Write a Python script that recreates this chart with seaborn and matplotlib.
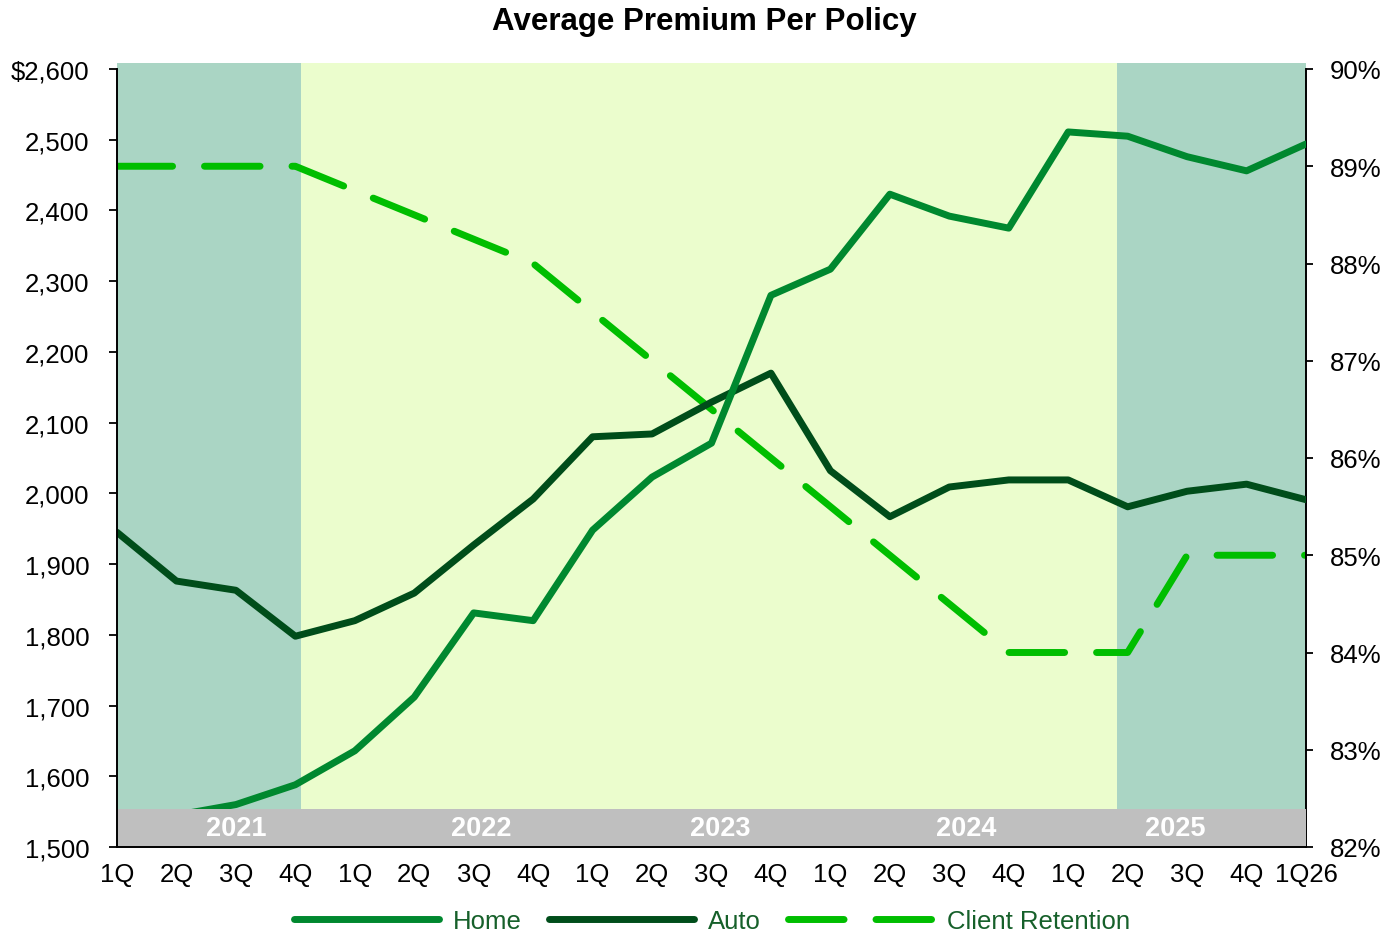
import matplotlib
matplotlib.use("Agg")
import matplotlib.pyplot as plt
from matplotlib.lines import Line2D
from matplotlib.patches import Rectangle
from matplotlib.ticker import FuncFormatter
import seaborn as sns
import pandas as pd

quarters = ["1Q", "2Q", "3Q", "4Q", "1Q", "2Q", "3Q", "4Q", "1Q", "2Q", "3Q", "4Q",
            "1Q", "2Q", "3Q", "4Q", "1Q", "2Q", "3Q", "4Q", "1Q26"]
home = [1530, 1545, 1560, 1588, 1636, 1712, 1831, 1820, 1948, 2023, 2071, 2280,
        2317, 2423, 2392, 2375, 2511, 2505, 2476, 2456, 2494]
auto = [1945, 1876, 1863, 1798, 1820, 1859, 1927, 1992, 2080, 2084, 2129, 2170,
        2032, 1967, 2009, 2019, 2019, 1981, 2003, 2013, 1991]
retention = [89.0, 89.0, 89.0, 89.0, 88.75, 88.5, 88.25, 88.0, 87.5, 87.0, 86.5, 86.0,
             85.5, 85.0, 84.5, 84.0, 84.0, 84.0, 85.0, 85.0, 85.0]
years = ["2021", "2022", "2023", "2024", "2025"]
year_pos = [2.0, 6.12, 10.14, 14.28, 17.8]
band_edges = [0, 3.1, 16.82, 20]
band_colors = ["#AAD5C4", "#EBFDCD", "#AAD5C4"]

df = pd.DataFrame({"x": range(len(quarters)), "Home": home, "Auto": auto,
                   "Client Retention": retention})

sns.set_style("white")
plt.rcParams["font.family"] = ["Liberation Sans", "DejaVu Sans"]

C_HOME = "#00882F"
C_AUTO = "#004D1A"
C_RET = "#00BE00"
LW = 5.0
DASH = (8.0, 4.6)

fig = plt.figure(figsize=(13.85, 9.37), dpi=100)
ax = fig.add_axes([117 / 1385, 89 / 937, (1306 - 117) / 1385, 778 / 937])
ax2 = ax.twinx()
ax.set_zorder(ax2.get_zorder() + 1)
ax.patch.set_visible(False)

# background bands
for i in range(len(band_colors)):
    r = Rectangle((band_edges[i], 0), band_edges[i + 1] - band_edges[i], 1.0077,
                  transform=ax2.get_xaxis_transform(), facecolor=band_colors[i],
                  edgecolor="none", zorder=0, clip_on=False)
    ax2.add_patch(r)

sns.lineplot(data=df, x="x", y="Client Retention", ax=ax2, color=C_RET, lw=LW)
ret_line = ax2.lines[-1]
ret_line.set_dashes(DASH)
ret_line.set_dash_capstyle("round")
ret_line.set_solid_joinstyle("round")

sns.lineplot(data=df, x="x", y="Auto", ax=ax, color=C_AUTO, lw=LW,
             solid_capstyle="round", solid_joinstyle="round")
sns.lineplot(data=df, x="x", y="Home", ax=ax, color=C_HOME, lw=LW,
             solid_capstyle="round", solid_joinstyle="round")

# gray year band
gray = Rectangle((0, 0), 1, 38 / 778, transform=ax.transAxes, facecolor="#BFBFBF",
                 edgecolor="none", zorder=5)
ax.add_patch(gray)
for y, xp in zip(years, year_pos):
    ax.text(xp, 19 / 778, y, transform=ax.get_xaxis_transform(), ha="center",
            va="center", color="white", fontsize=19.5, fontweight="bold", zorder=6)

ax.set_xlim(0, 20)
ax.set_ylim(1500, 2600)
ax2.set_ylim(82, 90)
ax.set_xticks(range(len(quarters)))
ax.set_xticklabels(quarters)
ax.set_yticks(range(1500, 2601, 100))
ax.yaxis.set_major_formatter(FuncFormatter(
    lambda v, p: f"${v:,.0f}" if v == 2600 else f"{v:,.0f}"))
ax2.set_yticks(range(82, 91))
ax2.yaxis.set_major_formatter(FuncFormatter(lambda v, p: f"{v:.0f}%"))
ax.set_xlabel("")
ax.set_ylabel("")
ax2.set_ylabel("")

ax.tick_params(axis="x", length=0, pad=11, labelsize=18.5, colors="black")
ax.tick_params(axis="y", left=True, length=6, width=1.3, pad=14, labelsize=18.5,
               direction="out", colors="black")
ax2.tick_params(axis="y", right=True, length=5, width=1.3, pad=12, labelsize=18.5,
                direction="out", colors="black")

for a in (ax, ax2):
    for s in a.spines.values():
        s.set_visible(False)
ax.spines["left"].set_visible(True)
ax.spines["bottom"].set_visible(True)
ax2.spines["right"].set_visible(True)
for s in (ax.spines["left"], ax.spines["bottom"], ax2.spines["right"]):
    s.set_color("black")
    s.set_linewidth(1.4)
    s.set_zorder(7)

fig.text(704.5 / 1385, 1 - 22 / 937, "Average Premium Per Policy", ha="center",
         va="center", fontsize=22.5, fontweight="bold", color="black")

handles = [
    Line2D([], [], color=C_HOME, lw=LW, solid_capstyle="round"),
    Line2D([], [], color=C_AUTO, lw=LW, solid_capstyle="round"),
    Line2D([], [], color=C_RET, lw=LW, dashes=DASH, dash_capstyle="round"),
]
leg = fig.legend(handles, ["Home", "Auto", "Client Retention"], loc="center",
                 bbox_to_anchor=(712 / 1385, 1 - 922 / 937), ncol=3, frameon=False,
                 fontsize=18.5, handlelength=5.65, handletextpad=0.56,
                 columnspacing=1.03)
for t in leg.get_texts():
    t.set_color("#16602A")

fig.savefig("out.png", dpi=100)
